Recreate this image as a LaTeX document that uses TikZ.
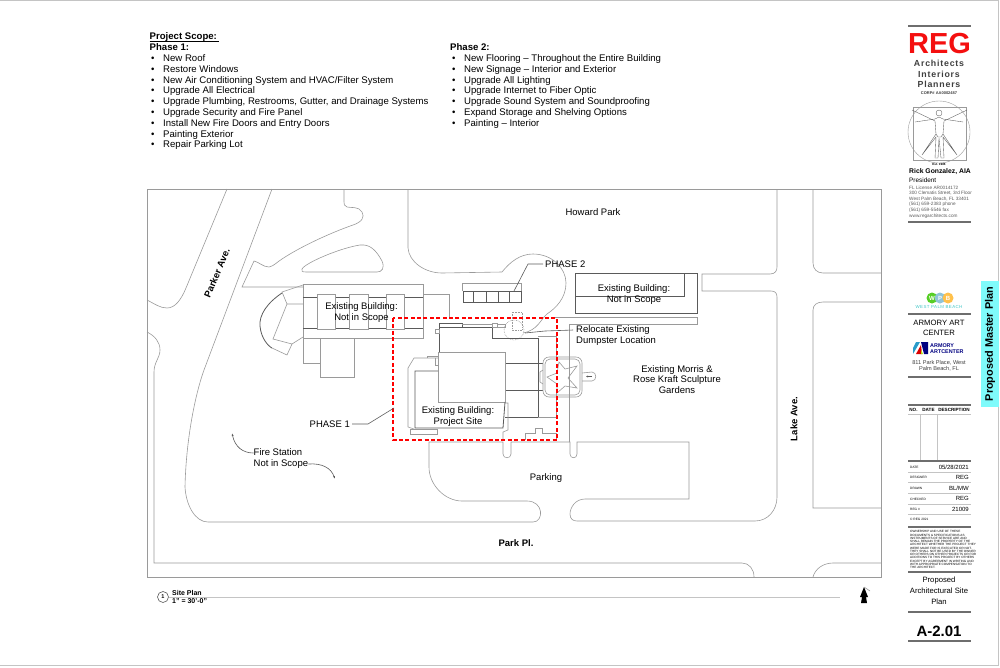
\documentclass[tikz,border=0pt]{standalone}
\usepackage{fontspec}
\setmainfont{Liberation Sans}
\newfontfamily\spacedfont[LetterSpace=9]{Liberation Sans}
\usetikzlibrary{positioning}
\usetikzlibrary{arrows.meta}
\definecolor{sitegray}{HTML}{9A9A9A}
\definecolor{darkgray}{HTML}{5A5A5A}
\definecolor{bargray}{HTML}{6E6E6E}
\definecolor{rulegray}{HTML}{C4C4C4}
\definecolor{tabcyan}{HTML}{7FFBFB}
\definecolor{regred}{HTML}{F40F0F}
\newcommand{\fsz}[2]{\fontsize{#1}{#2}\selectfont}
\newcommand{\scopeitem}[1]{\makebox[12pt][l]{\textbullet}#1}
\tikzset{
  siteline/.style={draw=sitegray,line width=.6pt},
  darkline/.style={draw=darkgray,line width=.8pt},
  leader/.style={draw=darkgray,line width=.6pt},
  barline/.style={draw=bargray,line width=2.2pt},
  rowline/.style={draw=rulegray,line width=.8pt},
  sitelabel/.style={inner sep=0pt,align=center,font=\fsz{9.5}{10.8}},
  boldlabel/.style={inner sep=0pt,font=\fsz{9.5}{10}\bfseries},
  scopetext/.style={anchor=north west,inner sep=0pt,align=left,font=\fsz{9.6}{10.8}},
  rowlabel/.style={anchor=west,inner sep=0pt,font=\fsz{3.2}{4}},
  rowvalue/.style={anchor=east,inner sep=0pt,font=\fsz{6}{7}},
  smallinfo/.style={anchor=north west,inner sep=0pt,align=left,text=darkgray,font=\fsz{4.7}{5.6}},
}
\begin{document}
\begin{tikzpicture}[x=1pt,y=-1pt]
  \useasboundingbox (0,0) rectangle (1000,667);
  \draw[rowline] (0,.5) -- (998,.5) -- (998,665.5) -- (0,665.5);

  % scope lists
  \node[scopetext,font=\fsz{9.6}{11}\bfseries] (scopetitle) at (149.5,32.5) {Project Scope:\,};
  \draw[black,line width=.7pt] ([yshift=-1.8pt]scopetitle.base west) -- ([yshift=-1.8pt]scopetitle.base east);
  \node[scopetext,font=\fsz{9.6}{11}\bfseries] (phaseonehead) at (149.5,43.5) {Phase 1:};
  \node[scopetext] (phaseonelist) at (151,54.3) {\scopeitem{New Roof}\\\scopeitem{Restore Windows}\\\scopeitem{New Air Conditioning System and HVAC/Filter System}\\\scopeitem{Upgrade All Electrical}\\\scopeitem{Upgrade Plumbing, Restrooms, Gutter, and Drainage Systems}\\\scopeitem{Upgrade Security and Fire Panel}\\\scopeitem{Install New Fire Doors and Entry Doors}\\\scopeitem{Painting Exterior}\\\scopeitem{Repair Parking Lot}};
  \node[scopetext,font=\fsz{9.6}{11}\bfseries] (phasetwohead) at (450,43.5) {Phase 2:};
  \node[scopetext] (phasetwolist) at (452,54.3) {\scopeitem{New Flooring – Throughout the Entire Building}\\\scopeitem{New Signage – Interior and Exterior}\\\scopeitem{Upgrade All Lighting}\\\scopeitem{Upgrade Internet to Fiber Optic}\\\scopeitem{Upgrade Sound System and Soundproofing}\\\scopeitem{Expand Storage and Shelving Options}\\\scopeitem{Painting – Interior}};

  % site frame and roads
  \draw[siteline] (147,189) rectangle (881,577);
  \draw[siteline] (227,189) -- (186,288) .. controls (181,300) and (175,308) .. (167,308) .. controls (160,308) and (155,304) .. (147,300);
  \draw[siteline] (147,332) .. controls (155,336) and (160,342) .. (160,350) .. controls (160,358) and (154,362) .. (154,372) -- (154,563) -- (742,563) .. controls (749,563) and (754,569) .. (754,577);
  \draw[siteline] (813,577) .. controls (815,569) and (823,563) .. (833,563) -- (881,563);
  \draw[siteline] (272,189) -- (204,370) .. controls (195,395) and (186,440) .. (185,487) .. controls (186,505) and (195,522) .. (208,522) -- (533,522) .. controls (544,522) and (544,501) .. (527,501) -- (462,501) .. controls (445,501) and (429,485) .. (429,467) -- (429,442) -- (503,442) -- (503,454) .. controls (503,459) and (511,459) .. (511,454) -- (511,442) -- (570,442) -- (570,454) .. controls (570,459) and (577,459) .. (577,454) -- (577,442) -- (689,442) -- (689,499) -- (585,499) .. controls (575,499) and (570,508) .. (570,514) .. controls (570,519) and (573,521) .. (577,521) -- (755,521) .. controls (768,521) and (777,510) .. (777,497) -- (777,297) .. controls (777,293) and (775,291) .. (771,291) -- (702,291) -- (702,274) -- (770,274) .. controls (775,274) and (777,271) .. (777,267) -- (777,189);
  \draw[siteline] (813,189) -- (813,263) .. controls (813,269) and (817,273) .. (823,273) -- (881,273);
  \draw[siteline] (881,302) -- (823,302) .. controls (817,302) and (813,305) .. (813,310) -- (813,508) -- (881,508);
  \draw[siteline] (303,287) -- (242,287) -- (254,261) .. controls (259,262) and (263,267) .. (269,267) .. controls (274,266) and (277,262) .. (282,259) .. controls (300,247) and (330,233) .. (353,225) .. controls (362,222) and (365,217) .. (362,212) .. controls (359,206) and (350,208) .. (347,207) .. controls (344,206) and (344,204) .. (344,202) -- (344,189);
  \draw[siteline] (302,269) .. controls (305,263) and (340,248) .. (360,245) .. controls (370,244) and (376,250) .. (382,261) .. controls (385,268) and (382,272) .. (377,272) -- (306,272) .. controls (302,272) and (301,271) .. (302,269) -- cycle;
  \draw[siteline] (408,189) -- (408,248) .. controls (409,262) and (425,273) .. (442,273) -- (502,272) .. controls (510,262) and (520,254) .. (533,254) .. controls (552,254) and (566,268) .. (566,283) .. controls (566,298) and (556,308) .. (547,314) .. controls (540,320) and (538,330) .. (523,333);
  \draw[siteline] (569,442) -- (569,324) -- (697,324) -- (697,317) -- (555,317);

  % left building
  \draw[siteline] (303,284) rectangle (423,338);
  \draw[darkline] (303,297) -- (317,297) (335,297) -- (349,297) (368,297) -- (386,297) (404,297) -- (423,297);
  \draw[darkline] (303,328) -- (317,328) (335,328) -- (349,328) (368,328) -- (386,328) (404,328) -- (423,328);
  \draw[siteline] (317,294) rectangle (335,329);
  \draw[siteline] (349,294) rectangle (368,329);
  \draw[siteline] (386,294) rectangle (404,329);
  \draw[siteline] (303,285) -- (282,292) -- (287,304) -- (303,304);
  \draw[siteline] (287,304) -- (273,339) -- (292,344) -- (287,355) -- (272,348);
  \draw[siteline] (292,344) -- (303,337);
  \draw[darkline] (282,293) .. controls (267,303) and (259,315) .. (260,326) .. controls (261,338) and (268,346) .. (272,348);
  \draw[siteline] (303,338) -- (303,363) -- (320,363);
  \draw[siteline] (320,338) -- (320,377) -- (354,377) -- (354,338);
  \draw[siteline] (423,294) -- (449,294) -- (449,318);

  % right building
  \draw[darkline] (575,273) rectangle (697,313);
  \draw[darkline] (575,296) -- (684,296) -- (684,273);

  % phase 2 building
  \draw[siteline] (462,291) -- (462,283) -- (521,283) -- (521,291);
  \draw[darkline] (463,291) rectangle (521,302);
  \draw[darkline] (473,291) -- (473,302);
  \draw[darkline] (486,291) -- (486,302);
  \draw[darkline] (498,291) -- (498,302);
  \draw[darkline] (509,291) -- (509,302);
  \draw[siteline,densely dotted] (512,312) rectangle (522,330);
  \draw[siteline,densely dotted] (514,330) circle[radius=10pt];

  % main building
  \draw[darkline] (439,352) -- (439,327) -- (492,327) -- (492,338) -- (538,338) -- (538,417) -- (505,417);
  \draw[darkline] (505,363) -- (543,363);
  \draw[darkline] (505,390) -- (543,390);
  \draw[siteline] (438,352) rectangle (505,402);
  \draw[darkline] (505,402) -- (503,428) -- (415,428) -- (415,371) -- (438,371);
  \draw[siteline] (414,429) -- (408,427) -- (408,368) -- (414,358) -- (438,358);
  \draw[siteline] (427,358) -- (427,356) -- (438,356) -- (438,365) -- (435,365) -- (435,358);
  \draw[siteline] (410,429) rectangle (437,434);
  \draw[darkline] (439,323) rectangle (462,327);
  \draw[siteline] (462,324) -- (492,324);
  \draw[siteline] (492,323) rectangle (497,327);
  \draw[siteline] (497,324) -- (505,324) -- (505,327) -- (492,327);
  \draw[siteline] (435,329) rectangle (439,333);
  \draw[siteline] (538,336) -- (556,336) -- (556,358);
  \draw[siteline] (538,417) -- (556,417) -- (556,393);
  \draw[siteline] (505,403) -- (508,403) -- (508,430) -- (503,432) -- (503,440);
  \draw[siteline] (525,440) -- (525,433) -- (535,433) -- (535,428) -- (542,428) -- (542,433) -- (556,433) -- (556,440);

  % sculpture star
  \draw[siteline,rounded corners=6pt] (543,357) rectangle (582,397);
  \draw[siteline,rounded corners=5pt] (545,359) rectangle (580,395);
  \draw[siteline] (559,362) -- (565,369) -- (577,366) -- (568,378) -- (577,388) -- (565,386) -- (557,393) -- (557,384) -- (547,377) -- (557,373) -- cycle;
  \draw[siteline] (582,373) -- (592,372) .. controls (597,372) and (597,381) .. (592,381) -- (582,381);
  \draw[darkline,-{Latex[length=2pt,width=2pt]}] (592,376.5) -- (586,376.5);
  \draw[siteline] (543,370) -- (540,372) -- (540,382) -- (543,384);

  % phase 1 limit
  \draw[draw=red,line width=1.3pt,dash pattern=on 4pt off 2.4pt] (393,318) rectangle (557,440);

  % labels on the plan
  \node[boldlabel,rotate=67] (parker) at (217,273) {Parker Ave.};
  \node[boldlabel,rotate=90] (lake) at (794,419) {Lake Ave.};
  \node[boldlabel] (parkpl) at (516,543) {Park Pl.};
  \node[sitelabel] (howard) at (593,212) {Howard Park};
  \node[sitelabel] (leftbuilding) at (361.5,312.5) {Existing Building:\\Not in Scope};
  \node[sitelabel] (rightbuilding) at (634,294.5) {Existing Building:\\Not in Scope};
  \node[sitelabel] (mainbuilding) at (458,416.5) {Existing Building:\\Project Site};
  \node[sitelabel,anchor=west] (phasetwo) at (545,264) {PHASE 2};
  \node[sitelabel,anchor=east] (phaseone) at (350,424) {PHASE 1};
  \node[sitelabel,anchor=west,align=left] (dumpster) at (576,335.5) {Relocate Existing\\Dumpster Location};
  \node[sitelabel] (gardens) at (677,379.5) {Existing Morris \&\\Rose Kraft Sculpture\\Gardens};
  \node[sitelabel] (parking) at (546,478) {Parking};
  \node[sitelabel,anchor=west,align=left] (fire) at (253.5,458.5) {Fire Station\\Not in Scope};

  % leaders
  \coordinate (phasetwobend) at (528,264);
  \coordinate (phasetwotip) at (514,291);
  \coordinate (phaseonebend) at (368,424);
  \coordinate (phaseonetip) at (394,408);
  \coordinate (dumpsterbend) at (545,331);
  \coordinate (dumpstertip) at (525,333);
  \coordinate (firetipa) at (232,433);
  \coordinate (firetipb) at (335,479);
  \draw[leader] ([xshift=-2pt]phasetwo.west) -- (phasetwobend) -- (phasetwotip);
  \draw[leader] ([xshift=2pt]phaseone.east) -- (phaseonebend) -- (phaseonetip);
  \draw[leader] ([xshift=-3pt,yshift=5.5pt]dumpster.west) -- (dumpsterbend) -- (dumpstertip);
  \draw[leader,-{Latex[length=3pt,width=2pt]}] ([yshift=5.5pt]fire.west) .. controls (243,453) and (235,447) .. (firetipa);
  \draw[leader,-{Latex[length=3pt,width=2pt]}] ([yshift=-5.5pt]fire.east) .. controls (322,463) and (331,468) .. (firetipb);

  % drawing title
  \coordinate (titleend) at (840,597);
  \node[draw=darkgray,circle,line width=.6pt,minimum size=11pt,inner sep=0pt,font=\fsz{5.5}{6}\bfseries] (sitenumber) at (163,597) {1};
  \draw[rowline] (sitenumber) -- (titleend);
  \node[anchor=west,inner sep=0pt,align=left,font=\fsz{7}{8}\bfseries] (sitetitle) at (172,596.5) {Site Plan\\1" = 30'-0"};
  \fill[black] (864,587) -- (868,597) -- (866,597) -- (867,603) -- (861,603) -- (862,597) -- (860,597) -- cycle;
  \draw[siteline] (864,587) -- (870,591);

  % title block: firm
  \draw[barline] (908,26) -- (971,26);
  \node[inner sep=0pt,text=regred,font=\fsz{29}{30}\bfseries] (reg) at (939.5,44) {REG};
  \node[inner sep=0pt,align=center,text=darkgray!70!black,font=\fsz{8.8}{10.6}\spacedfont\bfseries] (firm) at (939,74) {Architects\\Interiors\\Planners};
  \node[inner sep=0pt,text=darkgray!70!black,font=\fsz{4}{5}\bfseries] (corp) at (939,93) {CORP\# AA0002487};
  \draw[siteline,line width=.4pt] (939,132) circle[radius=31pt];
  \draw[siteline,line width=.4pt] (913,107) rectangle (966,160);
  \draw[darkgray,line width=.35pt] (939,113) circle[radius=3pt];
  \draw[darkgray,line width=.35pt] (915,122) -- (935,119) -- (939,117) -- (943,119) -- (963,122);
  \draw[darkgray,line width=.35pt] (912,110) -- (935,121) -- (936,134) -- (938,137) -- (941,137) -- (943,134) -- (944,121) -- (967,110);
  \draw[darkgray,line width=.35pt] (936,134) -- (922,155) -- (936,137) -- (935,158) -- (938,158) -- (939,138) -- (941,158) -- (944,158) -- (943,137) -- (957,155) -- (943,134);
  \node[inner sep=0pt,font=\fsz{3}{4}\bfseries] (est) at (939,164) {Est. 1986};
  \node[anchor=west,inner sep=0pt,font=\fsz{6.8}{7}\bfseries] (rick) at (909,172) {Rick Gonzalez, AIA};
  \node[anchor=west,inner sep=0pt,font=\fsz{6.4}{7}] (president) at (909,180) {President};
  \node[smallinfo] (contact) at (909,185.5) {FL License AR0014172\\300 Clematis Street, 3rd Floor\\West Palm Beach, FL 33401\\(561) 659-2383 phone\\(561) 659-5546 fax\\www.regarchitects.com};
  \draw[barline] (908,222) -- (971,222);

  % title block: client
  \node[circle,fill=green!55!olive!85,minimum size=11pt,inner sep=0pt,text=white,font=\fsz{6}{7}\bfseries] (wpbw) at (932,298) {W};
  \node[circle,fill=cyan!40!teal!50,minimum size=11pt,inner sep=0pt,text=white,font=\fsz{6}{7}\bfseries] (wpbp) at (940,298) {P};
  \node[circle,fill=orange!70!yellow!70,minimum size=11pt,inner sep=0pt,text=white,font=\fsz{6}{7}\bfseries] (wpbb) at (948,298) {B};
  \node[inner sep=0pt,text=teal!60!cyan!75,font=\fsz{4.4}{5}\spacedfont] (westpalm) at (939,307) {WEST PALM BEACH};
  \draw[barline] (908,314) -- (971,314);
  \node[inner sep=0pt,align=center,font=\fsz{7.7}{10.6}] (armory) at (939,328) {ARMORY ART\\CENTER};
  \fill[cyan!60!teal] (913,354) -- (920,342) -- (916,342) -- (913,348) -- cycle;
  \fill[red!85!black] (916,354) -- (921,345) -- (922,354) -- cycle;
  \fill[yellow!70!green] (921,350) -- (923,354) -- (921,354) -- cycle;
  \fill[blue!50!black] (921,342) -- (928,342) -- (928,354) -- (924,354) -- cycle;
  \node[anchor=west,inner sep=0pt,align=left,text=blue!50!black,font=\fsz{5.4}{5.6}\bfseries] (armorylogo) at (930,348.5) {ARMORY\\ARTCENTER};
  \node[inner sep=0pt,align=center,text=darkgray!70!black,font=\fsz{5.6}{6.6}] (address) at (939,366) {811 Park Place, West\\Palm Beach, FL};
  \draw[barline] (908,377) -- (971,377);

  % title block: side tab
  \fill[tabcyan] (981,281) rectangle (999,407);
  \node[inner sep=0pt,rotate=90,font=\fsz{10.9}{11}\bfseries] (sheettab) at (990,344) {Proposed Master Plan};

  % title block: revisions
  \draw[barline] (908,405) -- (971,405);
  \node[inner sep=0pt,font=\fsz{4.6}{5}\bfseries] (revno) at (913.5,410) {NO.};
  \node[inner sep=0pt,font=\fsz{4.6}{5}\bfseries] (revdate) at (928.5,410) {DATE};
  \node[inner sep=0pt,font=\fsz{4.6}{5}\bfseries] (revdesc) at (954,410) {DESCRIPTION};
  \draw[rowline] (908,414) -- (971,414);
  \draw[rowline] (920,414) -- (920,461);
  \draw[rowline] (937,414) -- (937,461);
  \draw[barline] (908,461) -- (971,461);

  % title block: sheet data
  \node[rowlabel] (datekey) at (910,467) {DATE};
  \node[rowvalue] (dateval) at (969,467) {05/28/2021};
  \draw[rowline] (908,472) -- (971,472);
  \node[rowlabel] (designerkey) at (910,477) {DESIGNER};
  \node[rowvalue] (designerval) at (969,477) {REG};
  \draw[rowline] (908,482) -- (971,482);
  \node[rowlabel] (drawnkey) at (910,488) {DRAWN};
  \node[rowvalue] (drawnval) at (969,488) {BL/MW};
  \draw[rowline] (908,493) -- (971,493);
  \node[rowlabel] (checkedkey) at (910,499) {CHECKED};
  \node[rowvalue] (checkedval) at (969,498.5) {REG};
  \draw[rowline] (908,504) -- (971,504);
  \node[rowlabel] (regkey) at (910,509) {REG \#};
  \node[rowvalue] (regval) at (969,509) {21009};
  \draw[rowline] (908,514) -- (971,514);
  \node[rowlabel] (copyright) at (910,519) {© REG 2021};
  \draw[barline] (908,527) -- (971,527);
  \node[anchor=north west,inner sep=0pt,align=left,font=\fsz{3.1}{3.25}] (ownership) at (910,530.5) {OWNERSHIP AND USE OF THESE\\DOCUMENTS \& SPECIFICATIONS AS\\INSTRUMENTS OF SERVICE ARE AND\\SHALL REMAIN THE PROPERTY OF THE\\ARCHITECT WHETHER THE PROJECT THEY\\WERE MADE FOR IS EXECUTED OR NOT.\\THEY SHALL NOT BE USED BY THE OWNER\\OR OTHERS ON OTHER PROJECTS OR FOR\\ADDITIONS TO THIS PROJECT BY OTHERS\\EXCEPT BY AGREEMENT IN WRITING AND\\WITH APPROPRIATE COMPENSATION TO\\THE ARCHITECT.};
  \draw[barline] (908,572) -- (971,572);
  \node[inner sep=0pt,align=center,font=\fsz{7.7}{11}] (sheetname) at (939,591) {Proposed\\Architectural Site\\Plan};
  \draw[barline] (908,612) -- (971,612);
  \node[inner sep=0pt,font=\fsz{15}{16}\bfseries] (sheetno) at (939,631) {A-2.01};
  \draw[barline] (908,641) -- (971,641);
\end{tikzpicture}
\end{document}
